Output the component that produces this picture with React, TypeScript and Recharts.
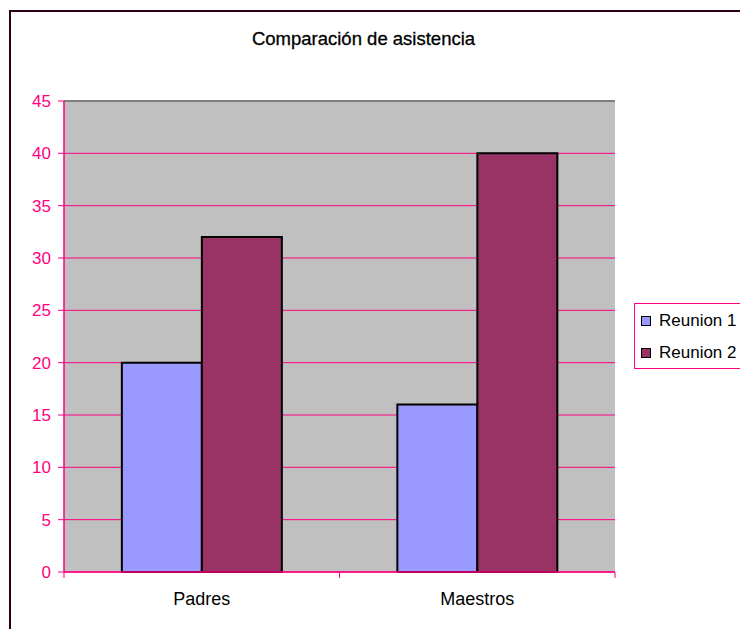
import React from 'react';
import { BarChart, Bar, XAxis, YAxis, CartesianGrid, ReferenceLine, Legend } from 'recharts';

const categories = ['Padres', 'Maestros'];
const reunion1 = [20, 16];
const reunion2 = [32, 40];
const seriesNames = ['Reunion 1', 'Reunion 2'];
const yTicks = [0, 5, 10, 15, 20, 25, 30, 35, 40, 45];
const title = 'Comparación de asistencia';

const PINK = '#FF0080';
const FONT = '"Liberation Sans", Arial, Helvetica, sans-serif';
const colors = ['#9999FF', '#993366'];

const chartData = categories.map((name, i) => ({
  name,
  r1: reunion1[i],
  r2: reunion2[i],
}));

// etiqueta de categoria + marcas en los bordes de cada banda (estilo Excel)
const CategoryTick = (props: any) => {
  const { x, y, payload, index } = props;
  const half = payload?.offset ?? 0;
  const axisY = y - 6;
  return (
    <g>
      {index === 0 && (
        <line x1={x - half} x2={x - half} y1={axisY} y2={axisY + 6} stroke={PINK} strokeWidth={1} />
      )}
      <line x1={x + half} x2={x + half} y1={axisY} y2={axisY + 6} stroke={PINK} strokeWidth={1} />
      <text x={x} y={y + 21} textAnchor="middle" dominantBaseline="central" fill="#000" fontSize={18} fontFamily={FONT}>
        {payload.value}
      </text>
    </g>
  );
};

const LegendBox = () => (
  <div
    style={{
      border: `1px solid ${PINK}`,
      background: '#fff',
      width: 120,
      height: 66,
      boxSizing: 'border-box',
      paddingLeft: 6,
      paddingTop: 1,
      fontFamily: FONT,
      fontSize: 17,
    }}
  >
    {seriesNames.map((s, i) => (
      <div key={s} style={{ display: 'flex', alignItems: 'center', height: 32 }}>
        <span
          style={{
            display: 'inline-block',
            width: 8,
            height: 8,
            background: colors[i],
            border: '1px solid #000',
            marginRight: 8,
          }}
        />
        <span style={{ whiteSpace: 'nowrap' }}>{s}</span>
      </div>
    ))}
  </div>
);

export default function App() {
  return (
    <div style={{ position: 'fixed', left: 0, top: 0, width: 740, height: 629, overflow: 'hidden', background: '#fff' }}>
      <div
        style={{
          position: 'absolute',
          left: 9,
          top: 10,
          width: 800,
          height: 700,
          border: '2px solid #2b0018',
        }}
      />
      <div
        style={{
          position: 'absolute',
          left: 0,
          width: 727,
          top: 28,
          textAlign: 'center',
          fontFamily: FONT,
          fontSize: 18.5,
          lineHeight: '22px',
          color: '#000',
          WebkitTextStroke: '0.3px #000',
        }}
      >
        {title}
      </div>
      <div style={{ position: 'absolute', left: 0, top: 0 }}>
        <BarChart
          width={740}
          height={629}
          data={chartData}
          margin={{ top: 101, right: 125, left: 0, bottom: 17 }}
          barCategoryGap="21%"
          barGap={0}
        >
          <CartesianGrid vertical={false} fill="#C0C0C0" fillOpacity={1} stroke={PINK} strokeWidth={1} />
          <XAxis
            dataKey="name"
            height={40}
            axisLine={{ stroke: PINK, strokeWidth: 1.5 }}
            tickLine={false}
            tickSize={6}
            tickMargin={0}
            tick={<CategoryTick />}
            interval={0}
          />
          <YAxis
            width={64}
            domain={[0, 45]}
            ticks={yTicks}
            interval={0}
            axisLine={{ stroke: PINK, strokeWidth: 1.5 }}
            tickLine={{ stroke: PINK }}
            tickSize={6}
            tickMargin={7}
            tick={{ fill: PINK, fontSize: 17, fontFamily: FONT }}
          />
          <YAxis
            yAxisId="right"
            orientation="right"
            width={0}
            domain={[0, 45]}
            tick={false}
            tickLine={false}
            axisLine={{ stroke: '#8c8c8c', strokeWidth: 2 }}
          />
          <ReferenceLine y={45} stroke="#808080" strokeWidth={2} />
          <Legend
            layout="vertical"
            align="center"
            verticalAlign="middle"
            content={<LegendBox />}
            wrapperStyle={{ left: 634, top: 303, width: 120 }}
          />
          <Bar dataKey="r1" name={seriesNames[0]} fill={colors[0]} stroke="#000" strokeWidth={2} isAnimationActive={false} />
          <Bar dataKey="r2" name={seriesNames[1]} fill={colors[1]} stroke="#000" strokeWidth={2} isAnimationActive={false} />
        </BarChart>
      </div>
    </div>
  );
}
